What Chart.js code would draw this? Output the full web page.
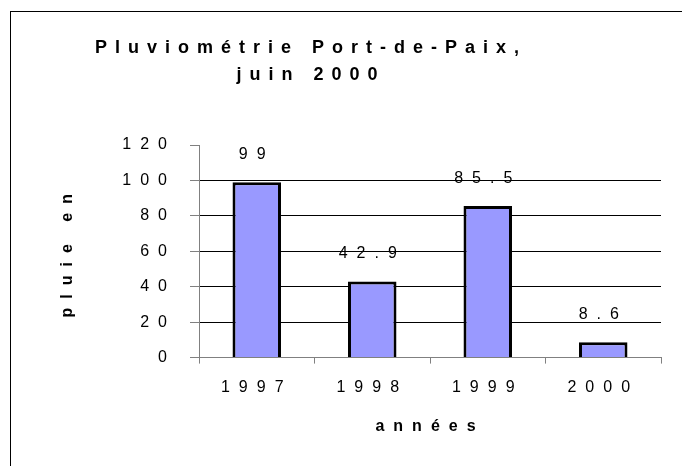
<!DOCTYPE html>
<html>
<head>
<meta charset="utf-8">
<script src="https://cdn.jsdelivr.net/npm/chart.js@4.4.0/dist/chart.umd.min.js"></script>
<style>
  html, body { margin: 0; padding: 0; background: #fff; }
  #wrap { position: relative; width: 682px; height: 466px; overflow: hidden; }
  #frame { position: absolute; left: 10px; top: 11px; right: -5px; bottom: -5px; border-left: 1px solid #000; border-top: 1px solid #000; pointer-events: none; }
  canvas { position: absolute; left: 0; top: 0; }
</style>
</head>
<body>
<div id="wrap">
  <canvas id="chart" width="682" height="466"></canvas>
  <div id="frame"></div>
</div>
<script>
const years = ['1997', '1998', '1999', '2000'];
const rainfall = [99, 42.9, 85.5, 8.6];
const yMin = 0;
const yMax = 120;
const yStep = 20;
const titleLines = ['Pluviométrie Port-de-Paix,', 'juin 2000'];
const yTitle = 'pluie en';
const xTitle = 'années';

const FONT = "'Liberation Sans', Arial, sans-serif";
const SPACING = '9px';
const AXIS_GREY = '#808080';

// the original spreads every letter out, canvas letterSpacing does it
const letterSpacing = {
    id: 'letterSpacing',
    beforeUpdate(chart) { chart.ctx.letterSpacing = SPACING; },
    beforeDraw(chart) { chart.ctx.letterSpacing = SPACING; }
};

// two line heading, centred a bit left of the canvas like the original
const heading = {
    id: 'heading',
    afterDraw(chart) {
        const ctx = chart.ctx;
        ctx.save();
        ctx.letterSpacing = '8px';
        ctx.font = `bold 18px ${FONT}`;
        ctx.fillStyle = '#000';
        ctx.textAlign = 'center';
        ctx.textBaseline = 'middle';
        titleLines.forEach((line, i) => ctx.fillText(line, 311, 48 + i * 27));
        ctx.restore();
    }
};

// value above each bar
const valueLabels = {
    id: 'valueLabels',
    afterDatasetsDraw(chart) {
        const ctx = chart.ctx;
        const meta = chart.getDatasetMeta(0);
        ctx.save();
        ctx.letterSpacing = SPACING;
        ctx.font = `16px ${FONT}`;
        ctx.fillStyle = '#000';
        ctx.textAlign = 'center';
        ctx.textBaseline = 'middle';
        meta.data.forEach((bar, i) => {
            ctx.fillText(String(rainfall[i]), bar.x, bar.y - 28);
        });
        ctx.restore();
    }
};

const ctx = document.getElementById('chart').getContext('2d');
new Chart(ctx, {
    type: 'bar',
    data: {
        labels: years,
        datasets: [{
            data: rainfall,
            backgroundColor: '#9999FF',
            borderColor: '#000000',
            borderWidth: 3,
            categoryPercentage: 1,
            barPercentage: 0.42
        }]
    },
    options: {
        responsive: false,
        animation: false,
        devicePixelRatio: 1,
        layout: { padding: { left: 50, right: 21, top: 145, bottom: 30 } },
        plugins: {
            legend: { display: false },
            tooltip: { enabled: false },
            title: { display: false }
        },
        scales: {
            x: {
                grid: { offset: true, drawOnChartArea: false, tickLength: 6, tickColor: AXIS_GREY },
                border: { color: AXIS_GREY, width: 1 },
                ticks: { color: '#000', font: { family: FONT, size: 16 }, padding: 14 },
                title: {
                    display: true, text: xTitle, color: '#000',
                    font: { family: FONT, size: 16, weight: 'bold' },
                    padding: { top: 6, bottom: 0 }
                }
            },
            y: {
                min: yMin,
                max: yMax,
                afterFit(scale) { scale.width = 199 - 50; },
                grid: {
                    tickLength: 9,
                    tickColor: AXIS_GREY,
                    color: (c) => (c.tick && (c.tick.value === yMin || c.tick.value === yMax)) ? 'rgba(0,0,0,0)' : '#000'
                },
                border: { color: AXIS_GREY, width: 1 },
                ticks: {
                    stepSize: yStep,
                    color: '#000',
                    font: { family: FONT, size: 16 },
                    padding: 14,
                    callback: (v) => String(v)
                },
                title: {
                    display: true, text: yTitle, color: '#000',
                    font: { family: FONT, size: 16, weight: 'bold' },
                    padding: { top: 8, bottom: 0 }
                }
            }
        }
    },
    plugins: [letterSpacing, heading, valueLabels]
});
</script>
</body>
</html>
